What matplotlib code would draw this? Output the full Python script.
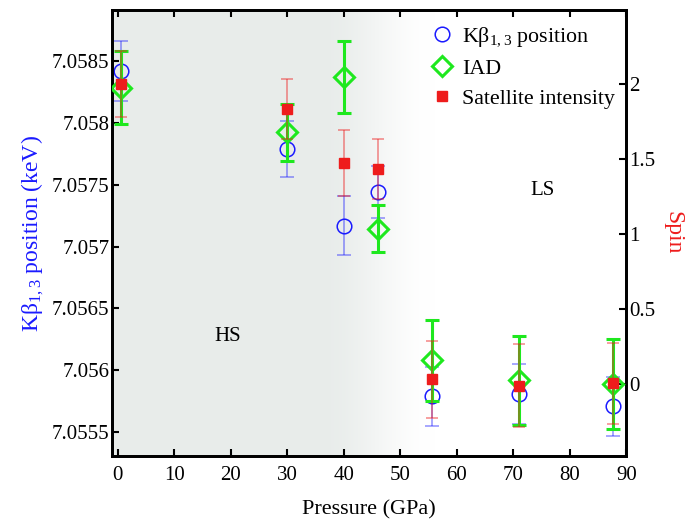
import numpy as np
import matplotlib
matplotlib.use("Agg")
import matplotlib.pyplot as plt

plt.rcParams['font.family'] = ['Liberation Serif', 'DejaVu Serif']
plt.rcParams['mathtext.fontset'] = 'custom'
plt.rcParams['mathtext.rm'] = 'Liberation Serif'
plt.rcParams['mathtext.it'] = 'Liberation Serif:italic'

# values
pressure = [0.5, 30.0, 40.0, 46.0, 55.6, 71.1, 87.6]
kb_pos = [7.05842, 7.05779, 7.05717, 7.05744, 7.05579, 7.05581, 7.05571]
kb_err = [0.000245, 0.000228, 0.000235, 0.00021, 0.000237, 0.000245, 0.00024]
iad = [1.977, 1.679, 2.049, 1.037, 0.156, 0.022, -0.003]
iad_err = [0.245, 0.19, 0.24, 0.155, 0.27, 0.30, 0.30]
sat = [2.0, 1.835, 1.476, 1.435, 0.029, -0.013, 0.004]
sat_err = [0.22, 0.2, 0.22, 0.2, 0.255, 0.277, 0.27]

blue = '#1a1aff'
green = '#1ee81e'
red = '#ee1c1c'

fig = plt.figure(figsize=(6.92, 5.25), dpi=100)
ax1 = fig.add_axes([0.162, 0.131, 0.743, 0.850])
ax2 = ax1.twinx()

xlim = (-1, 90)

# grey HS region fading to white (LS)
xs = np.linspace(xlim[0], xlim[1], 600)
w = np.clip((56 - xs) / (56 - 36), 0, 1)
w = w * w * (3 - 2 * w)
grey = np.array([0.912, 0.927, 0.920])
img = 1 - (1 - grey)[None, None, :] * w[None, :, None]
ax1.imshow(img, extent=[0, 1, 0, 1], transform=ax1.transAxes,
           aspect='auto', zorder=0, interpolation='bilinear')

# K-beta position (left axis)
ax1.errorbar(pressure, kb_pos, yerr=kb_err, fmt='none', ecolor=blue,
             alpha=0.45, elinewidth=1.2, capsize=4.8, capthick=1.2, zorder=2)
h1, = ax1.plot(pressure, kb_pos, 'o', ms=10.5, mfc='none', mec=blue,
               mew=1.1, ls='none', zorder=3,
               label=r'K$\mathregular{\beta_{1,3}}$ position')

# IAD and satellite intensity (right axis)
ax2.errorbar(pressure, iad, yerr=iad_err, fmt='none', ecolor=green,
             elinewidth=2.2, capsize=4.8, capthick=2.2, zorder=2)
h2, = ax2.plot(pressure, iad, 'D', ms=10, mfc='none', mec=green,
               mew=2.2, ls='none', zorder=3, label='IAD')
ax2.errorbar(pressure, sat, yerr=sat_err, fmt='none', ecolor=red,
             alpha=0.45, elinewidth=1.3, capsize=4.3, capthick=1.3, zorder=4)
h3, = ax2.plot(pressure, sat, 's', ms=6.5, mfc=red, mec=red,
               ls='none', zorder=5, label='Satellite intensity')

ax1.set_xlim(*xlim)
ax1.set_ylim(7.055306, 7.058912)
ax2.set_ylim(-0.484, 2.497)

ax1.set_xticks(np.arange(0, 91, 10))
ax1.set_yticks([7.0555, 7.056, 7.0565, 7.057, 7.0575, 7.058, 7.0585])
ax1.set_yticklabels(['7.0555', '7.056', '7.0565', '7.057', '7.0575',
                     '7.058', '7.0585'])
ax2.set_yticks([0, 0.5, 1, 1.5, 2])
ax2.set_yticklabels(['0', '0.5', '1', '1.5', '2'])

ax1.tick_params(axis='x', direction='in', top=True, length=5, width=1.5,
                labelsize=15, pad=7)
ax1.tick_params(axis='y', direction='in', length=5, width=1.5,
                labelsize=15, pad=2)
ax2.tick_params(axis='y', direction='in', length=5, width=1.5,
                labelsize=15, pad=2)
for ax in (ax1, ax2):
    for s in ax.spines.values():
        s.set_linewidth(2)

ax1.set_xlabel('Pressure (GPa)', fontsize=16, labelpad=11)
ax1.set_ylabel(r'K$\mathregular{\beta_{1,3}}$ position (keV)', fontsize=17,
               color=blue, labelpad=4)
ax2.set_ylabel('Spin', fontsize=17, color=red, rotation=-90, labelpad=20)

ax1.text(19.5, 7.05627, 'HS', fontsize=15, ha='center', va='center')
ax2.text(75.2, 1.29, 'LS', fontsize=15, ha='center', va='center')

ax2.legend(handles=[h1, h2, h3], loc='upper right',
           bbox_to_anchor=(1.008, 1.0), frameon=False, fontsize=15.8,
           handletextpad=0.3, labelspacing=0.45, handlelength=1.2,
           borderaxespad=0.3)

fig.savefig('out.png', dpi=100)
